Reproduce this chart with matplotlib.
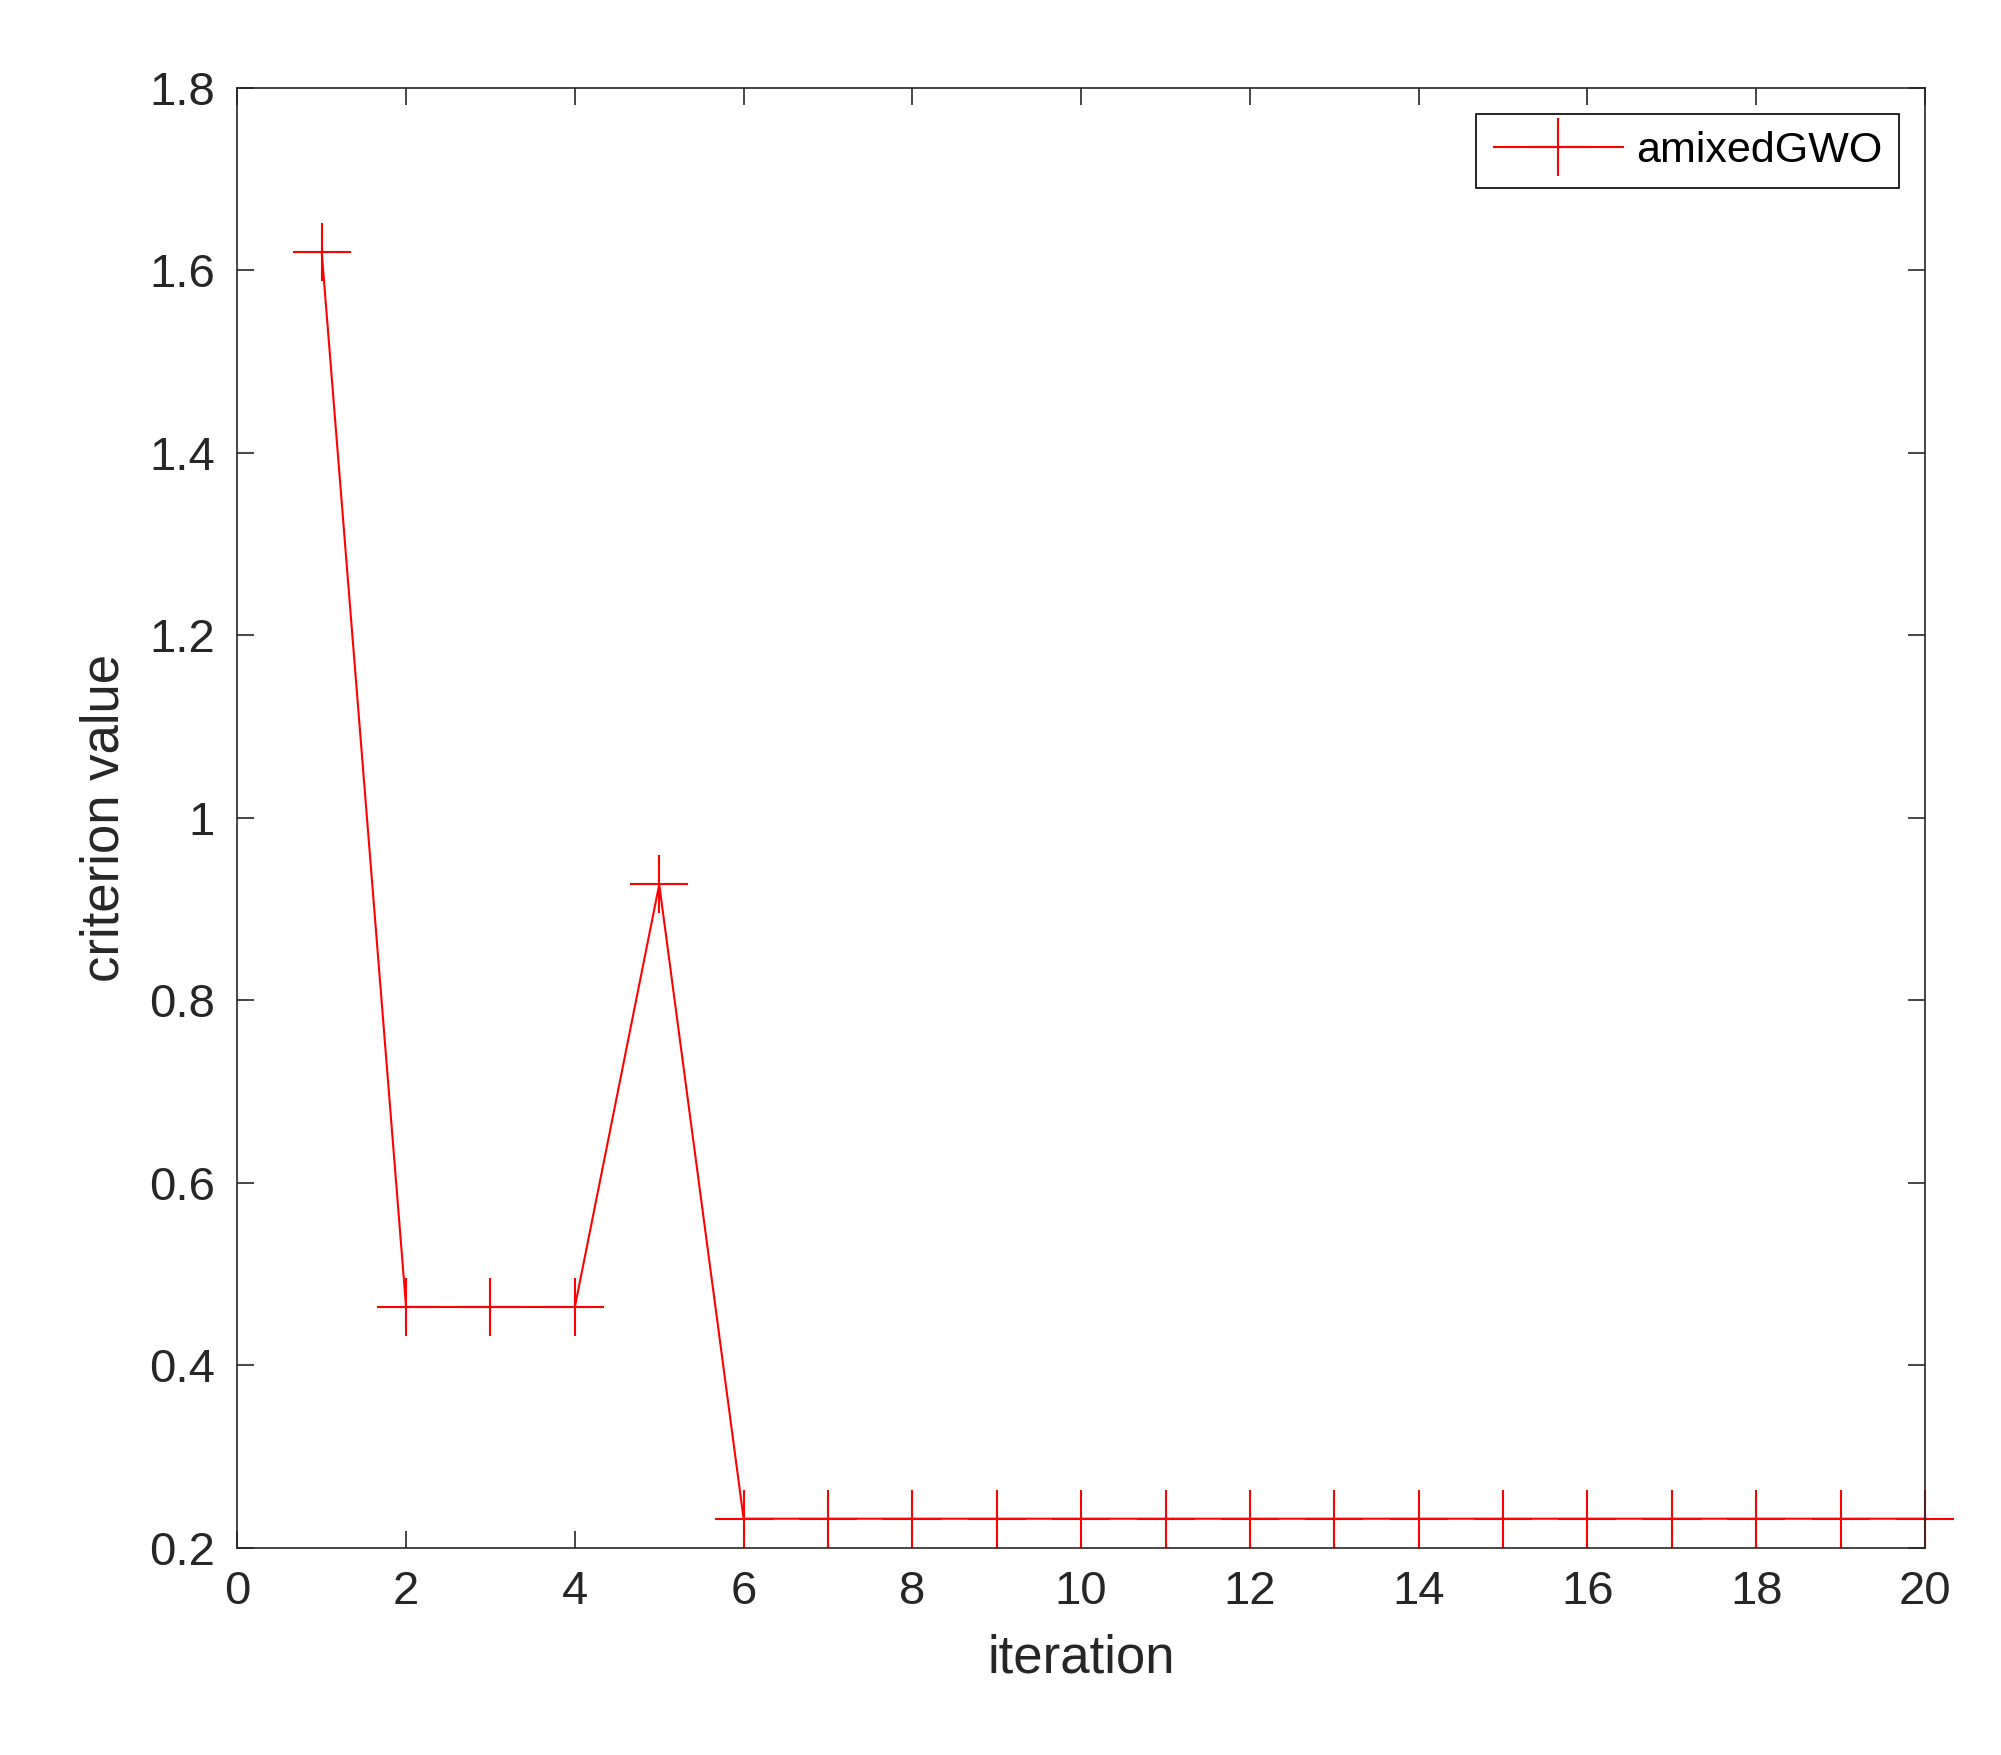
import matplotlib
matplotlib.use("Agg")
import matplotlib.pyplot as plt

iterations = list(range(1, 21))
criterion = [1.62, 0.464, 0.464, 0.464, 0.927] + [0.232] * 15
xticks = list(range(0, 21, 2))
yticks = [0.2, 0.4, 0.6, 0.8, 1.0, 1.2, 1.4, 1.6, 1.8]
yticklabels = ["0.2", "0.4", "0.6", "0.8", "1", "1.2", "1.4", "1.6", "1.8"]

plt.rcParams['font.family'] = ['Liberation Sans', 'DejaVu Sans']
fig = plt.figure(figsize=(20.01, 17.55), dpi=100)
ax = fig.add_axes([0.1186, 0.118, 0.962 - 0.1186, 0.95 - 0.118])
ax.plot(iterations, criterion, color='red', marker='+', markersize=42,
        markeredgewidth=1.5, linewidth=1.5, label='amixedGWO', clip_on=False)
ax.set_xlim(0, 20)
ax.set_ylim(0.2, 1.8)
ax.set_xticks(xticks)
ax.set_yticks(yticks)
ax.set_yticklabels(yticklabels)
ax.tick_params(direction='in', length=12, width=1.2, labelsize=34, colors='#262626',
               top=True, right=True, pad=16)
for s in ax.spines.values():
    s.set_linewidth(1.2)
    s.set_color('#262626')
ax.set_xlabel('iteration', fontsize=38, color='#262626', labelpad=14)
ax.set_ylabel('criterion value', fontsize=38, color='#262626', labelpad=14)
leg = ax.legend(loc='upper right', fontsize=31, fancybox=False, edgecolor='black',
                framealpha=1, handlelength=3, borderaxespad=0.6, handletextpad=0.3)
leg.get_frame().set_linewidth(1.2)
fig.savefig('out.png', dpi=100)
